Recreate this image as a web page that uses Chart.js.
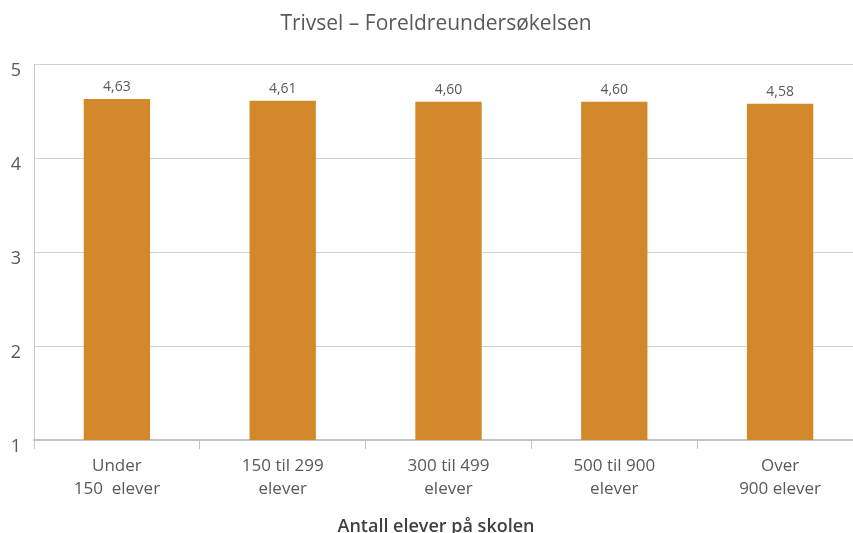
<!DOCTYPE html>
<html>
<head>
<meta charset="utf-8">
<script src="https://cdn.jsdelivr.net/npm/chart.js@4/dist/chart.umd.min.js"></script>
<style>
html,body{margin:0;padding:0;overflow:hidden;background:#fff;}
#wrap{position:relative;width:863px;height:533px;}
</style>
</head>
<body>
<div id="wrap"><canvas id="c"></canvas></div>
<script>
const categories = [["Under","150  elever"],["150 til 299","elever"],["300 til 499","elever"],["500 til 900","elever"],["Over","900 elever"]];
const values = [4.63, 4.61, 4.60, 4.60, 4.58];
const yTicks = [1, 2, 3, 4, 5];
const chartTitle = "Trivsel – Foreldreundersøkelsen";
const xTitle = "Antall elever på skolen";

const FONT = "'Open Sans', 'Noto Sans', sans-serif";
const TXT = '#595959';

const valueLabels = {
  id: 'valueLabels',
  afterDatasetsDraw(chart) {
    const ctx = chart.ctx;
    const meta = chart.getDatasetMeta(0);
    ctx.save();
    ctx.font = "14px " + FONT;
    ctx.fillStyle = TXT;
    ctx.textAlign = 'center';
    ctx.textBaseline = 'bottom';
    meta.data.forEach((bar, i) => {
      ctx.fillText(values[i].toFixed(2).replace('.', ','), bar.x, bar.y - 5);
    });
    ctx.restore();
  }
};

new Chart(document.getElementById('c'), {
  type: 'bar',
  data: {
    labels: categories,
    datasets: [{
      data: values,
      backgroundColor: '#D2882B',
      borderWidth: 0,
      barPercentage: 0.4,
      categoryPercentage: 1.0
    }]
  },
  options: {
    responsive: true,
    maintainAspectRatio: false,
    animation: false,
    layout: { padding: { left: 9, right: 0, top: 0, bottom: -3 } },
    plugins: {
      legend: { display: false },
      tooltip: { enabled: false },
      title: {
        display: true,
        text: chartTitle,
        color: TXT,
        font: { family: FONT, size: 21, weight: 'normal', lineHeight: 1.2 },
        padding: { top: 11, bottom: 28 }
      },
      subtitle: {
        display: true,
        position: 'bottom',
        text: xTitle,
        color: '#404040',
        font: { family: FONT, size: 18, weight: '600', lineHeight: 1 },
        padding: { top: 12, bottom: 0 }
      }
    },
    scales: {
      x: {
        grid: { display: true, drawOnChartArea: false, drawTicks: true, tickLength: 9, color: '#c4c4c4', offset: true },
        border: { display: true, color: '#c4c4c4', width: 2 },
        ticks: { color: TXT, font: { family: FONT, size: 17, lineHeight: 1.38 }, padding: 5, maxRotation: 0, autoSkip: false }
      },
      y: {
        min: 1,
        max: 5,
        afterBuildTicks(scale) { scale.ticks = yTicks.map(v => ({ value: v })); },
        afterFit(scale) { scale.width = 25; },
        grid: { color: '#d0d0d0', drawTicks: false },
        border: { display: true, color: '#c8c8c8' },
        ticks: { color: TXT, font: { family: FONT, size: 18 }, padding: 13, labelOffset: 7 }
      }
    }
  },
  plugins: [valueLabels]
});
</script>
</body>
</html>
